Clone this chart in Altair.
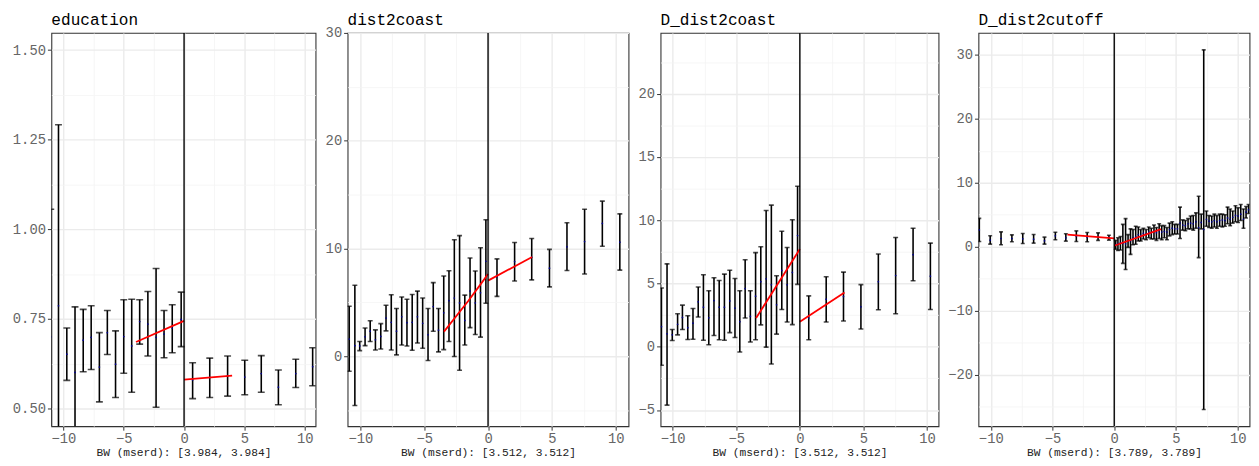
import altair as alt
import pandas as pd

FONT = "Liberation Mono"

# ---------------- Panel 1: education ----------------
edu_x = [-11.05, -10.41, -9.72, -9.04, -8.36, -7.70, -7.02, -6.36, -5.68, -5.00, -4.34, -3.68, -3.00,
         -2.32, -1.66, -0.98, -0.24, 0.71, 2.13, 3.61, 5.03, 6.40, 7.82, 9.26, 10.66]
edu_y = [0.70, 0.787, 0.652, 0.601, 0.691, 0.699, 0.616, 0.712, 0.624, 0.701, 0.675, 0.743, 0.736,
         0.699, 0.708, 0.725, 0.749, 0.580, 0.587, 0.592, 0.588, 0.598, 0.560, 0.598, 0.617]
edu_lo = [0.344, 0.282, 0.579, 0.418, 0.603, 0.609, 0.519, 0.651, 0.531, 0.599, 0.546, 0.680, 0.647,
          0.504, 0.642, 0.656, 0.673, 0.528, 0.531, 0.535, 0.539, 0.546, 0.511, 0.559, 0.564]
edu_hi = [1.056, 1.292, 0.725, 0.784, 0.777, 0.787, 0.712, 0.774, 0.717, 0.804, 0.805, 0.804, 0.827,
          0.891, 0.774, 0.790, 0.825, 0.628, 0.641, 0.647, 0.635, 0.648, 0.608, 0.638, 0.670]
edu_fit_left_x = [-3.984, 0.0]
edu_fit_left_y = [0.686, 0.745]
edu_fit_right_x = [0.0, 3.984]
edu_fit_right_y = [0.581, 0.592]

# ---------------- Panel 2: dist2coast ----------------
d2c_x = [-10.87, -10.43, -10.05, -9.63, -9.23, -8.82, -8.40, -7.99, -7.58, -7.17, -6.76, -6.35, -5.94,
         -5.53, -5.12, -4.70, -4.29, -3.88, -3.47, -3.06, -2.64, -2.23, -1.82, -1.41, -1.00, -0.59,
         -0.17, 0.70, 2.08, 3.42, 4.81, 6.18, 7.56, 8.95, 10.32]
d2c_y = [1.59, 0.98, 0.95, 1.80, 2.32, 1.52, 1.83, 3.54, 3.14, 2.32, 3.66, 3.11, 3.14,
         3.66, 3.05, 1.99, 4.60, 2.41, 4.02, 5.15, 5.40, 4.94, 3.32, 6.04, 4.94, 5.88,
         8.81, 7.38, 8.78, 9.18, 8.17, 10.15, 10.64, 12.32, 10.58]
d2c_lo = [-1.40, -4.57, 0.52, 0.98, 1.37, 0.58, 0.67, 2.35, 0.58, 0.12, 1.04, 0.95, 0.55,
          1.22, 0.73, -0.40, 2.32, 0.40, 0.61, 1.37, -0.03, -1.31, 1.04, 2.65, 2.01, 1.77,
          4.91, 5.55, 6.98, 7.08, 6.43, 7.96, 7.62, 10.21, 7.99]
d2c_hi = [4.64, 6.59, 1.37, 2.62, 3.29, 2.44, 3.02, 4.73, 5.70, 4.43, 5.49, 5.28, 5.73,
          6.04, 5.40, 4.43, 6.83, 4.43, 7.44, 7.93, 10.80, 11.19, 5.67, 9.12, 7.90, 10.06,
          12.66, 9.03, 10.55, 10.92, 9.91, 12.38, 13.63, 14.39, 13.21]
d2c_fit_left_x = [-3.45, -1.57, -0.66, 0.0]
d2c_fit_left_y = [2.28, 5.10, 6.55, 7.62]
d2c_fit_right_x = [0.0, 3.45]
d2c_fit_right_y = [7.01, 9.21]

# ---------------- Panel 3: D_dist2coast ----------------
dd2c_x = [-10.88, -10.44, -10.03, -9.61, -9.23, -8.81, -8.40, -7.99, -7.58, -7.16, -6.75, -6.34, -5.93,
          -5.51, -5.10, -4.72, -4.30, -3.89, -3.48, -3.07, -2.65, -2.24, -1.83, -1.42, -1.00, -0.59,
          -0.18, 0.70, 2.07, 3.43, 4.80, 6.17, 7.53, 8.90, 10.26]
dd2c_y = [1.59, 1.02, 0.94, 1.78, 2.32, 1.51, 1.86, 3.55, 3.13, 2.29, 3.65, 3.13, 3.13,
          3.62, 3.05, 1.98, 4.60, 2.40, 4.00, 5.14, 5.37, 4.90, 3.31, 6.03, 4.90, 5.87,
          8.79, 2.27, 3.76, 3.97, 3.16, 5.14, 5.63, 7.28, 5.58]
dd2c_lo = [-1.46, -4.61, 0.50, 0.94, 1.36, 0.57, 0.60, 2.35, 0.52, 0.16, 0.89, 0.55, 0.52,
           1.12, 0.73, -0.42, 2.27, 0.37, 0.55, 1.73, -0.03, -1.36, 1.00, 2.95, 1.96, 1.75,
           4.93, 0.55, 1.96, 2.03, 1.41, 2.92, 2.61, 5.22, 2.95]
dd2c_hi = [4.65, 6.55, 1.36, 2.61, 3.29, 2.45, 3.02, 4.72, 5.69, 4.43, 5.45, 5.24, 5.74,
           6.05, 5.40, 4.43, 6.88, 4.43, 7.44, 7.90, 10.77, 11.19, 5.61, 9.13, 7.85, 10.04,
           12.68, 4.02, 5.53, 5.90, 4.91, 7.33, 8.64, 9.37, 8.19]
dd2c_fit_left_x = [-3.44, 0.0]
dd2c_fit_left_y = [2.27, 7.72]
dd2c_fit_right_x = [0.0, 3.512]
dd2c_fit_right_y = [1.98, 4.28]

# ---------------- Panel 4: D_dist2cutoff ----------------
dcut_x = [-10.93, -10.05, -9.17, -8.29, -7.41, -6.53, -5.65, -4.77, -3.92, -3.07, -2.19, -1.31, -0.43,
          0.12, 0.30, 0.50, 0.70, 0.92, 1.12, 1.32, 1.52, 1.74, 1.95, 2.15, 2.36, 2.58, 2.80, 3.00,
          3.22, 3.42, 3.64, 3.85, 4.06, 4.27, 4.48, 4.70, 4.90, 5.12, 5.33, 5.55, 5.76, 5.98, 6.19,
          6.40, 6.62, 6.84, 7.05, 7.25, 7.47, 7.68, 7.90, 8.11, 8.32, 8.54, 8.76, 8.97, 9.18, 9.39,
          9.60, 9.82, 10.03, 10.25, 10.47, 10.68, 10.88]
dcut_y = [2.63, 1.03, 1.29, 1.29, 1.24, 1.19, 0.93, 1.71, 1.40, 1.66, 1.50, 1.60, 1.45,
          0.30, 0.50, 0.60, 0.55, 0.45, 0.90, 0.95, 1.40, 1.60, 1.90, 1.80, 2.10, 2.00, 2.30, 2.20,
          2.40, 2.20, 2.50, 2.30, 2.40, 2.30, 2.70, 2.90, 2.80, 2.80, 3.70, 3.40, 3.30, 3.60, 3.70,
          3.60, 3.90, 3.00, 3.80, 2.70, 4.30, 4.00, 3.90, 4.10, 3.90, 4.10, 4.20, 4.10, 4.50, 4.30,
          4.60, 4.90, 4.80, 5.10, 4.30, 5.40, 5.80]
dcut_lo = [0.83, 0.41, 0.31, 0.78, 0.52, 0.57, 0.41, 1.09, 0.88, 0.83, 0.78, 0.99, 1.04,
           -0.40, -0.60, -0.50, -2.60, -3.55, -0.10, -1.20, 0.30, 0.40, 0.90, 0.90, 1.20, 1.10, 1.40, 1.20,
           1.20, 1.00, 1.30, 1.10, 1.40, 1.10, 1.70, 1.90, 2.00, 2.00, 1.30, 2.60, 2.50, 2.80, 2.80,
           2.60, 2.90, -1.70, 2.80, -25.45, 3.20, 3.00, 2.90, 3.10, 2.90, 3.20, 3.10, 3.20, 3.60, 3.30,
           3.70, 3.90, 3.80, 4.10, 2.90, 4.50, 5.20]
dcut_hi = [4.44, 1.71, 2.33, 1.86, 2.07, 1.91, 1.50, 2.28, 2.02, 2.48, 2.23, 2.17, 1.81,
           1.00, 1.40, 1.60, 3.50, 4.40, 1.90, 2.80, 2.70, 3.20, 3.10, 2.70, 2.90, 2.70, 3.10, 2.90,
           3.40, 3.00, 3.60, 3.30, 3.30, 3.00, 3.70, 3.90, 3.50, 3.50, 6.20, 4.20, 4.10, 4.40, 4.80,
           4.90, 5.30, 7.90, 5.10, 30.80, 5.60, 4.90, 4.80, 5.10, 4.90, 5.10, 5.10, 5.00, 6.20, 5.90,
           5.60, 6.40, 6.10, 6.60, 5.90, 6.30, 6.60]
dcut_fit_left_x = [-3.789, 0.0]
dcut_fit_left_y = [1.90, 1.30]
dcut_fit_right_x = [0.0, 3.789]
dcut_fit_right_y = [0.15, 2.75]

cutoff = [0.0]

# ---------------- axis tick / grid values ----------------
x_major = [-10, -5, 0, 5, 10]
x_minor = [-7.5, -2.5, 2.5, 7.5]

BLACK = "#000000"
GRID_MAJOR = "#EBEBEB"
GRID_MINOR = "#F4F4F4"


def is_minor_expr(minor):
    return "(" + " || ".join("datum.value == " + repr(float(m)) for m in minor) + ")"


def cond_axis(major, minor, fmt, **extra):
    test = is_minor_expr(minor)
    d = dict(
        values=list(major) + list(minor),
        format=fmt,
        labelExpr=test + " ? '' : datum.label",
        gridColor={"condition": {"test": test, "value": GRID_MINOR}, "value": GRID_MAJOR},
        gridWidth={"condition": {"test": test, "value": 0.8}, "value": 1.4},
        tickColor={"condition": {"test": test, "value": "transparent"}, "value": "#333333"},
        grid=True,
        domain=False,
        labelFlush=False,
        labelOverlap=False,
        tickSize=4,
        labelPadding=2,
        labelFont=FONT,
        labelFontSize=14,
        labelColor="#666666",
    )
    d.update(extra)
    return alt.Axis(**d)


def panel(title, xs, ys, los, his, flx, fly, frx, fry, xdom, ydom, ymaj, ymin, yfmt,
          width, height, cap, xtitle, title_offset=5):
    bars = pd.DataFrame({"x": xs, "y": ys, "lo": los, "hi": his})
    caps = pd.DataFrame({"x": list(xs) + list(xs), "y": list(los) + list(his)})
    fit = pd.DataFrame({
        "x": list(flx) + list(frx),
        "y": list(fly) + list(fry),
        "side": ["left"] * len(flx) + ["right"] * len(frx),
    })
    cut = pd.DataFrame({"x": cutoff})

    xs_ = alt.Scale(domain=xdom, nice=False, zero=False)
    ys_ = alt.Scale(domain=ydom, nice=False, zero=False)

    def X():
        return alt.X("x:Q", scale=xs_, axis=cond_axis(
            x_major, x_minor, "d", title=xtitle, titleFont=FONT, titleFontSize=11.4,
            titleFontWeight="normal", titleColor="#222222", titlePadding=1))

    def Y(field):
        return alt.Y(field, scale=ys_, axis=cond_axis(ymaj, ymin, yfmt, title=None))

    err = alt.Chart(bars).mark_rule(color=BLACK, strokeWidth=1.6, clip=True).encode(
        x=X(), y=Y("lo:Q"), y2="hi:Q"
    )
    capm = alt.Chart(caps).mark_tick(color=BLACK, orient="horizontal", size=cap,
                                     thickness=1.6, clip=True).encode(x=X(), y=Y("y:Q"))
    pts = alt.Chart(bars).mark_circle(color="#00008B", size=3, opacity=1, clip=True).encode(
        x=X(), y=Y("y:Q"))
    fitl = alt.Chart(fit).mark_line(color="#FF0000", strokeWidth=1.8, clip=True).encode(
        x=X(), y=Y("y:Q"), detail="side:N"
    )
    vline = alt.Chart(cut).mark_rule(color=BLACK, strokeWidth=1.4, clip=True).encode(x=X())
    return alt.layer(err, capm, pts, fitl, vline).properties(
        width=width,
        height=height,
        title=alt.TitleParams(title, anchor="start", frame="group", font=FONT, fontSize=16.3,
                              fontWeight="normal", color=BLACK, offset=title_offset),
    )


H = 399
p1 = panel("education", edu_x, edu_y, edu_lo, edu_hi,
           edu_fit_left_x, edu_fit_left_y, edu_fit_right_x, edu_fit_right_y,
           [-11.0, 10.9], [0.451, 1.548], [0.5, 0.75, 1.0, 1.25, 1.5],
           [0.625, 0.875, 1.125, 1.375], ".2f", 268, H, 7, "BW (mserd): [3.984, 3.984]")
p2 = panel("dist2coast", d2c_x, d2c_y, d2c_lo, d2c_hi,
           d2c_fit_left_x, d2c_fit_left_y, d2c_fit_right_x, d2c_fit_right_y,
           [-11.0, 11.0], [-6.5, 30.0], [0, 10, 20, 30], [-5, 5, 15, 25], "d",
           285, H, 5, "BW (mserd): [3.512, 3.512]", title_offset=-2)
p3 = panel("D_dist2coast", dd2c_x, dd2c_y, dd2c_lo, dd2c_hi,
           dd2c_fit_left_x, dd2c_fit_left_y, dd2c_fit_right_x, dd2c_fit_right_y,
           [-10.95, 10.9], [-6.28, 24.8], [-5, 0, 5, 10, 15, 20],
           [-2.5, 2.5, 7.5, 12.5, 17.5, 22.5], "d", 282, H, 5, "BW (mserd): [3.512, 3.512]")
p4 = panel("D_dist2cutoff", dcut_x, dcut_y, dcut_lo, dcut_hi,
           dcut_fit_left_x, dcut_fit_left_y, dcut_fit_right_x, dcut_fit_right_y,
           [-11.0, 10.96], [-28.08, 33.45], [-20, -10, 0, 10, 20, 30],
           [-25, -15, -5, 5, 15, 25], "d", 275, H, 4, "BW (mserd): [3.789, 3.789]")

chart = alt.hconcat(p1, p2, p3, p4, spacing=7.5, bounds="full").properties(
    padding={"left": 3, "top": 0, "right": 0, "bottom": 0}
).configure_view(
    stroke="#333333", strokeWidth=1.1, fill="white"
)

chart.save("out.html", embed_options={"renderer": "svg", "actions": False})
